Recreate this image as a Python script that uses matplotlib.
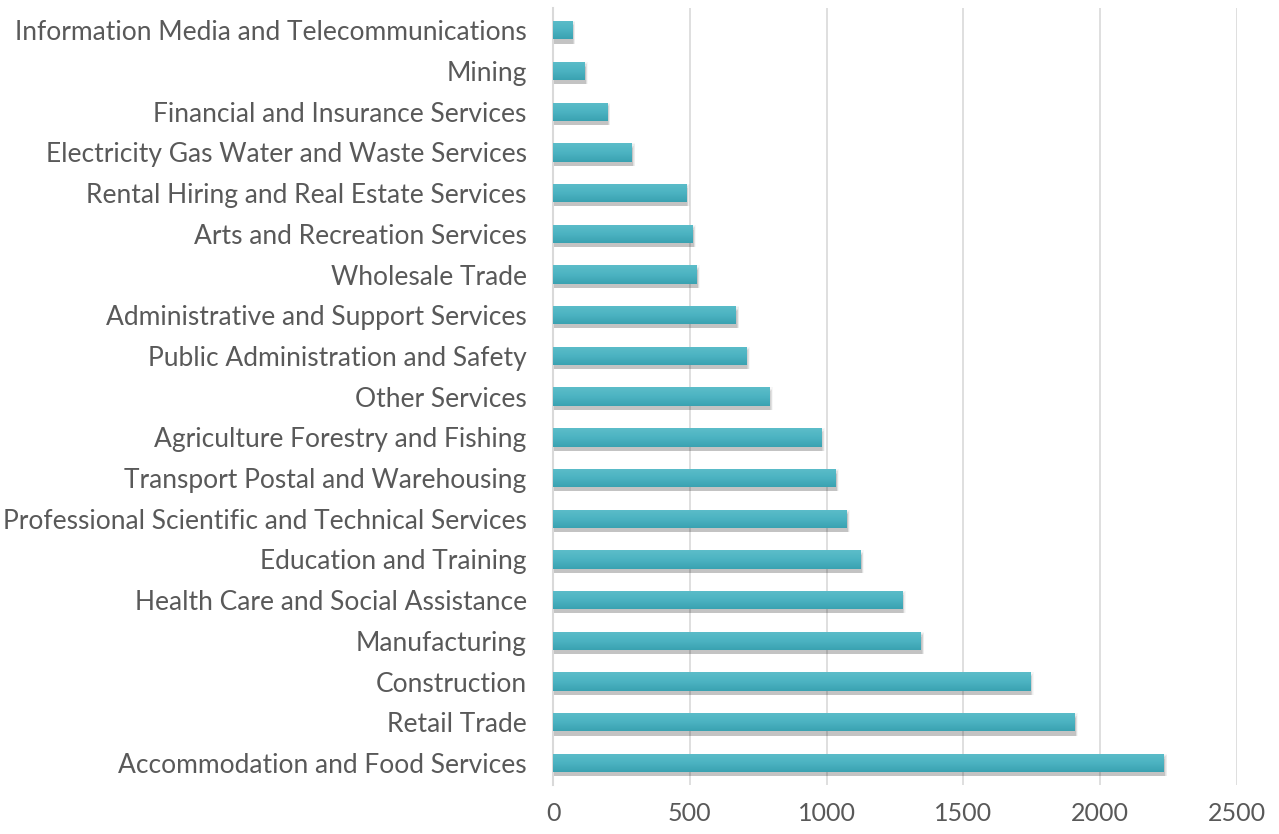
import numpy as np
import matplotlib.pyplot as plt
from matplotlib.colors import LinearSegmentedColormap

# industries, top to bottom as in the chart
industries = [
    'Information Media and Telecommunications',
    'Mining',
    'Financial and Insurance Services',
    'Electricity Gas Water and Waste Services',
    'Rental Hiring and Real Estate Services',
    'Arts and Recreation Services',
    'Wholesale Trade',
    'Administrative and Support Services',
    'Public Administration and Safety',
    'Other Services',
    'Agriculture Forestry and Fishing',
    'Transport Postal and Warehousing',
    'Professional Scientific and Technical Services',
    'Education and Training',
    'Health Care and Social Assistance',
    'Manufacturing',
    'Construction',
    'Retail Trade',
    'Accommodation and Food Services',
]
values = [70, 115, 198, 288, 487, 510, 525, 669, 707, 791,
          981, 1033, 1073, 1125, 1277, 1345, 1745, 1907, 2233]
xticks = [0, 500, 1000, 1500, 2000, 2500]

plt.rcParams['font.family'] = ['Lato', 'DejaVu Sans']

fig = plt.figure(figsize=(12.79, 8.34), dpi=100)
ax = fig.add_axes([0.4324, 0.0588, 0.5346, 0.9312])

# bottom category first
labels = industries[::-1]
vals = np.array(values[::-1])
y = np.arange(len(labels))
h = 0.45

# soft shadow under each bar
for k, a in enumerate([0.03, 0.04, 0.05, 0.06, 0.07]):
    off = 0.05 + k * 0.015
    ax.barh(y - off, vals + 12 - k * 2, height=h + 0.10 - k * 0.03,
            left=0, color='black', alpha=a, linewidth=0, zorder=2)

bars = ax.barh(y, vals, height=h, color='#4bacc6', linewidth=0, zorder=3)

# vertical gradient on the bars, lighter top, darker bottom
cmap = LinearSegmentedColormap.from_list('teal', ['#3aa2b1', '#4cb3c2', '#5cbdc9'])
grad = np.linspace(0, 1, 64).reshape(-1, 1)
for b in bars:
    x0, y0 = b.get_x(), b.get_y()
    im = ax.imshow(grad, cmap=cmap, aspect='auto', origin='lower',
                   extent=[x0, x0 + b.get_width(), y0, y0 + b.get_height()],
                   zorder=4)
    im.set_clip_path(b)

ax.set_xlim(0, 2500)
ax.set_ylim(-0.54, len(labels) - 0.46)
ax.set_yticks(y)
ax.set_yticklabels(labels)
ax.set_xticks(xticks)
ax.set_xticklabels([str(t) for t in xticks])

ax.grid(axis='x', color='#d9d9d9', linewidth=1.2, zorder=0)
ax.set_axisbelow(True)
for s in ['top', 'right', 'bottom']:
    ax.spines[s].set_visible(False)
ax.spines['left'].set_color('#d9d9d9')
ax.spines['left'].set_linewidth(1.5)
ax.tick_params(axis='both', length=0, colors='#595959')
ax.tick_params(axis='y', labelsize=19, pad=19)
ax.tick_params(axis='x', labelsize=18, pad=12)

plt.savefig('out.png', dpi=100)
